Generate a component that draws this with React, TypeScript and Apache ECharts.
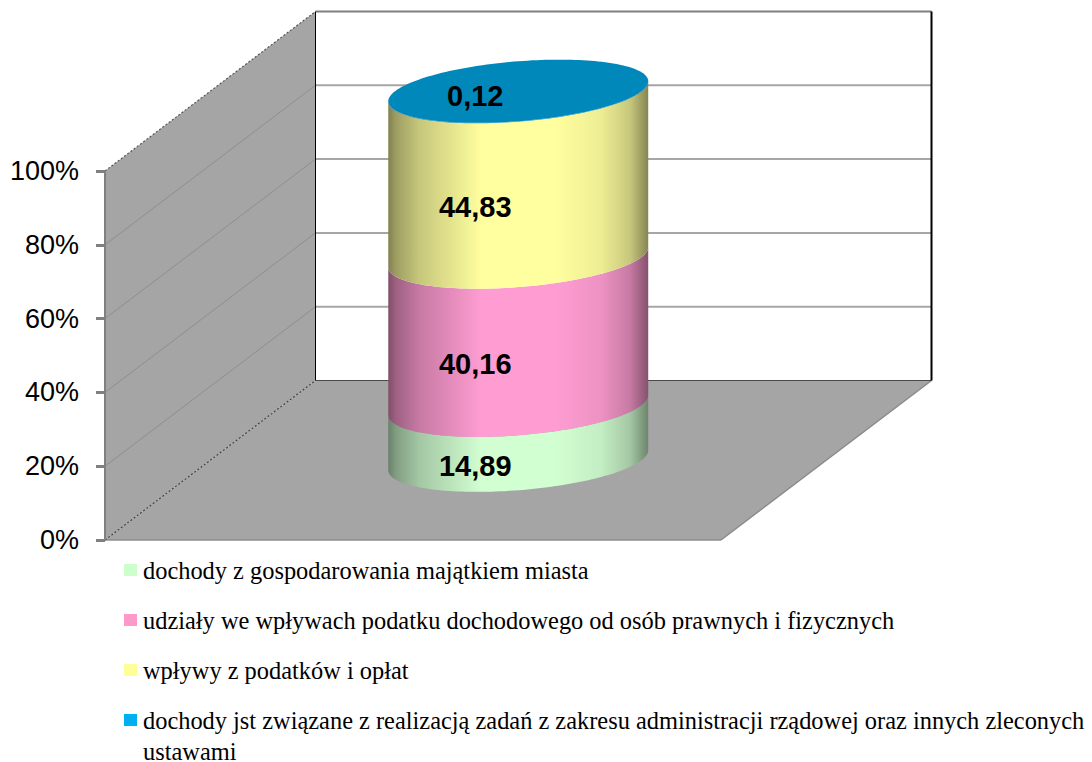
import React, { useEffect, useRef } from "react";
import * as echarts from "echarts";

const categories = ["2008"];
const tickValues = [0, 20, 40, 60, 80, 100];

const seriesNames = [
  "dochody z gospodarowania majątkiem miasta",
  "udziały we wpływach podatku dochodowego od osób prawnych i fizycznych",
  "wpływy z podatków i opłat",
  "dochody jst związane z realizacją zadań z zakresu administracji rządowej oraz innych zleconych",
];
const seriesValues = [14.89, 40.16, 44.83, 0.12];
const seriesColors = ["#D2FFD2", "#FF9DD2", "#FFFF9F", "#0088BB"];
const legendColors = ["#CCFFCC", "#FF99CC", "#FFFF99", "#00B0F0"];

// Projection of the 3D box: how far the back wall sits from the front plane.
const DEPTH_X = 210.5;
const DEPTH_Y = -159.5;
const BAND_RADIUS = 0.211;
const TILT = 10;
const MINOR = 30;

const WALL = "#A5A5A5";

function shade(hex: string, f: number) {
  const n = parseInt(hex.slice(1), 16);
  const c = [(n >> 16) & 255, (n >> 8) & 255, n & 255].map((v) => Math.round(v * f));
  return `rgb(${c[0]},${c[1]},${c[2]})`;
}

function sideGradient(hex: string) {
  return {
    type: "linear",
    x: 0,
    y: 0,
    x2: 1,
    y2: 0,
    colorStops: [
      { offset: 0, color: shade(hex, 0.5) },
      { offset: 0.03, color: shade(hex, 0.62) },
      { offset: 0.12, color: shade(hex, 0.78) },
      { offset: 0.36, color: shade(hex, 1) },
      { offset: 0.64, color: shade(hex, 1) },
      { offset: 0.82, color: shade(hex, 0.93) },
      { offset: 0.93, color: shade(hex, 0.78) },
      { offset: 1, color: shade(hex, 0.52) },
    ],
  };
}

// Point on the tilted ellipse that forms a cylinder cross-section.
function ellipsePoint(cx: number, cy: number, a: number, t: number) {
  return [cx + a * Math.cos(t), cy - TILT * Math.cos(t) + MINOR * Math.sin(t)];
}

function cylinderRenderer(index: number) {
  const start = seriesValues.slice(0, index).reduce((s, v) => s + v, 0);
  return (_params: any, api: any) => {
    const value = api.value(1);
    const a = api.size([1, 0])[0] * BAND_RADIUS;
    const bottom = api.coord([api.value(0), start]);
    const top = api.coord([api.value(0), start + value]);
    const cx = bottom[0] + DEPTH_X / 2;
    const y0 = bottom[1] + DEPTH_Y / 2;
    const y1 = top[1] + DEPTH_Y / 2;
    const steps = 90;
    // Front half of the lower rim, left to right, then the upper rim back.
    const body: number[][] = [];
    for (let i = 0; i <= steps; i++) {
      const t = Math.PI - (Math.PI * i) / steps;
      body.push(ellipsePoint(cx, y0, a, t));
    }
    for (let i = 0; i <= steps; i++) {
      const t = (Math.PI * i) / steps;
      body.push(ellipsePoint(cx, y1, a, t));
    }
    const children: any[] = [
      {
        type: "polygon",
        shape: { points: body },
        style: { fill: sideGradient(seriesColors[index]) },
      },
    ];
    if (index === seriesValues.length - 1) {
      const cap: number[][] = [];
      for (let i = 0; i < 180; i++) cap.push(ellipsePoint(cx, y1, a, (i * Math.PI) / 90));
      children.push({
        type: "polygon",
        shape: { points: cap },
        style: { fill: seriesColors[index] },
      });
    }
    const mid = (y0 + y1) / 2;
    const isCap = value < 1;
    children.push({
      type: "text",
      z2: 50,
      style: {
        text: String(value).replace(".", ","),
        x: cx - 43,
        y: mid + (isCap ? 5 : 33),
        align: "center",
        verticalAlign: "middle",
        fontFamily: "Liberation Sans",
        fontWeight: "bold",
        fontSize: 29,
        fill: "#000",
      },
    });
    return { type: "group", children };
  };
}

// Walls, floor and gridlines of the 3D box, hung on the value axis.
function boxRenderer(_params: any, api: any) {
  const band = api.size([1, 0])[0];
  const c0 = api.coord([0, 0]);
  const c100 = api.coord([0, 100]);
  const left = c0[0] - band / 2;
  const right = left + band;
  const bt = c0[1];
  const tp = c100[1];
  const dx = DEPTH_X;
  const dy = DEPTH_Y;
  const children: any[] = [
    {
      type: "polygon",
      shape: { points: [[left, bt], [left, tp], [left + dx, tp + dy], [left + dx, bt + dy]] },
      style: { fill: WALL },
    },
    {
      type: "polygon",
      shape: { points: [[left, bt], [left + dx, bt + dy], [right + dx, bt + dy], [right, bt]] },
      style: { fill: WALL },
    },
    {
      type: "line",
      shape: { x1: left, y1: bt, x2: right, y2: bt },
      style: { stroke: "#8C8C8C", lineWidth: 1.5 },
    },
    {
      type: "line",
      shape: { x1: right, y1: bt, x2: right + dx, y2: bt + dy },
      style: { stroke: "#8A8A8A", lineWidth: 1.5 },
    },
  ];
  tickValues.slice(1, -1).forEach((v) => {
    const y = api.coord([0, v])[1];
    children.push({
      type: "line",
      shape: { x1: left, y1: y, x2: left + dx, y2: y + dy },
      style: { stroke: "#8E8E8E", lineWidth: 1 },
    });
    children.push({
      type: "line",
      shape: { x1: left + dx, y1: y + dy, x2: right + dx, y2: y + dy },
      style: { stroke: "#A6A6A6", lineWidth: 2 },
    });
  });
  children.push(
    {
      type: "line",
      shape: { x1: left + dx, y1: tp + dy, x2: right + dx, y2: tp + dy },
      style: { stroke: "#7F7F7F", lineWidth: 2 },
    },
    {
      type: "line",
      shape: { x1: left + dx, y1: bt + dy, x2: right + dx, y2: bt + dy },
      style: { stroke: "#4A4A4A", lineWidth: 1 },
    },
    {
      type: "line",
      shape: { x1: left + dx, y1: tp + dy, x2: left + dx, y2: bt + dy },
      style: { stroke: "#000", lineWidth: 1 },
    },
    {
      type: "line",
      shape: { x1: right + dx, y1: tp + dy, x2: right + dx, y2: bt + dy },
      style: { stroke: "#000", lineWidth: 2 },
    },
    {
      type: "line",
      shape: { x1: left, y1: tp, x2: left + dx, y2: tp + dy },
      style: { stroke: "#555", lineWidth: 1.2, lineDash: [2, 2] },
    },
    {
      type: "line",
      shape: { x1: left, y1: bt, x2: left + dx, y2: bt + dy },
      style: { stroke: "#444", lineWidth: 1.2, lineDash: [2, 2] },
    }
  );
  return { type: "group", children };
}

export default function App() {
  const ref = useRef<HTMLDivElement>(null);

  useEffect(() => {
    const chart = echarts.init(ref.current!, null, { renderer: "svg" });
    chart.setOption({
      animation: false,
      backgroundColor: "#fff",
      grid: { left: 105, top: 171, width: 616, height: 369 },
      xAxis: { type: "category", data: categories, show: false },
      yAxis: {
        type: "value",
        min: 0,
        max: 100,
        interval: 20,
        z: 10,
        axisLine: { show: true, lineStyle: { color: "#808080", width: 2 } },
        axisTick: { show: true, length: 9, lineStyle: { color: "#808080", width: 3 } },
        axisLabel: {
          margin: 26,
          formatter: "{value}%",
          color: "#000",
          fontFamily: "Liberation Sans",
          fontSize: 27,
        },
        splitLine: { show: false },
      },
      legend: {
        orient: "vertical",
        left: 119,
        top: 553,
        itemWidth: 13,
        itemHeight: 12,
        itemGap: 26,
        selectedMode: false,
        icon: "rect",
        data: seriesNames.map((name, i) => ({
          name,
          itemStyle: { color: legendColors[i] },
        })),
        textStyle: {
          color: "#000",
          fontFamily: "Liberation Serif",
          fontSize: 24.4,
          lineHeight: 24,
          padding: [0, 0, 0, 1],
        },
      },
      graphic: [
        {
          type: "text",
          left: 143,
          top: 739,
          style: {
            text: "ustawami",
            fontFamily: "Liberation Serif",
            fontSize: 24.4,
            lineHeight: 16,
            fill: "#000",
          },
        },
      ],
      series: [
        {
          type: "custom",
          name: "box",
          silent: true,
          z: 1,
          data: [[0, 0]],
          renderItem: boxRenderer,
        },
        ...seriesNames.map((name, i) => ({
          type: "custom",
          name,
          z: 2 + i,
          itemStyle: { color: legendColors[i] },
          data: categories.map((_c, k) => [k, seriesValues[i]]),
          encode: { x: 0, y: 1 },
          renderItem: cylinderRenderer(i),
        })),
      ],
    });
    return () => chart.dispose();
  }, []);

  return (
    <div
      ref={ref}
      style={{ position: "absolute", left: 0, top: 0, width: 1092, height: 762 }}
    />
  );
}
